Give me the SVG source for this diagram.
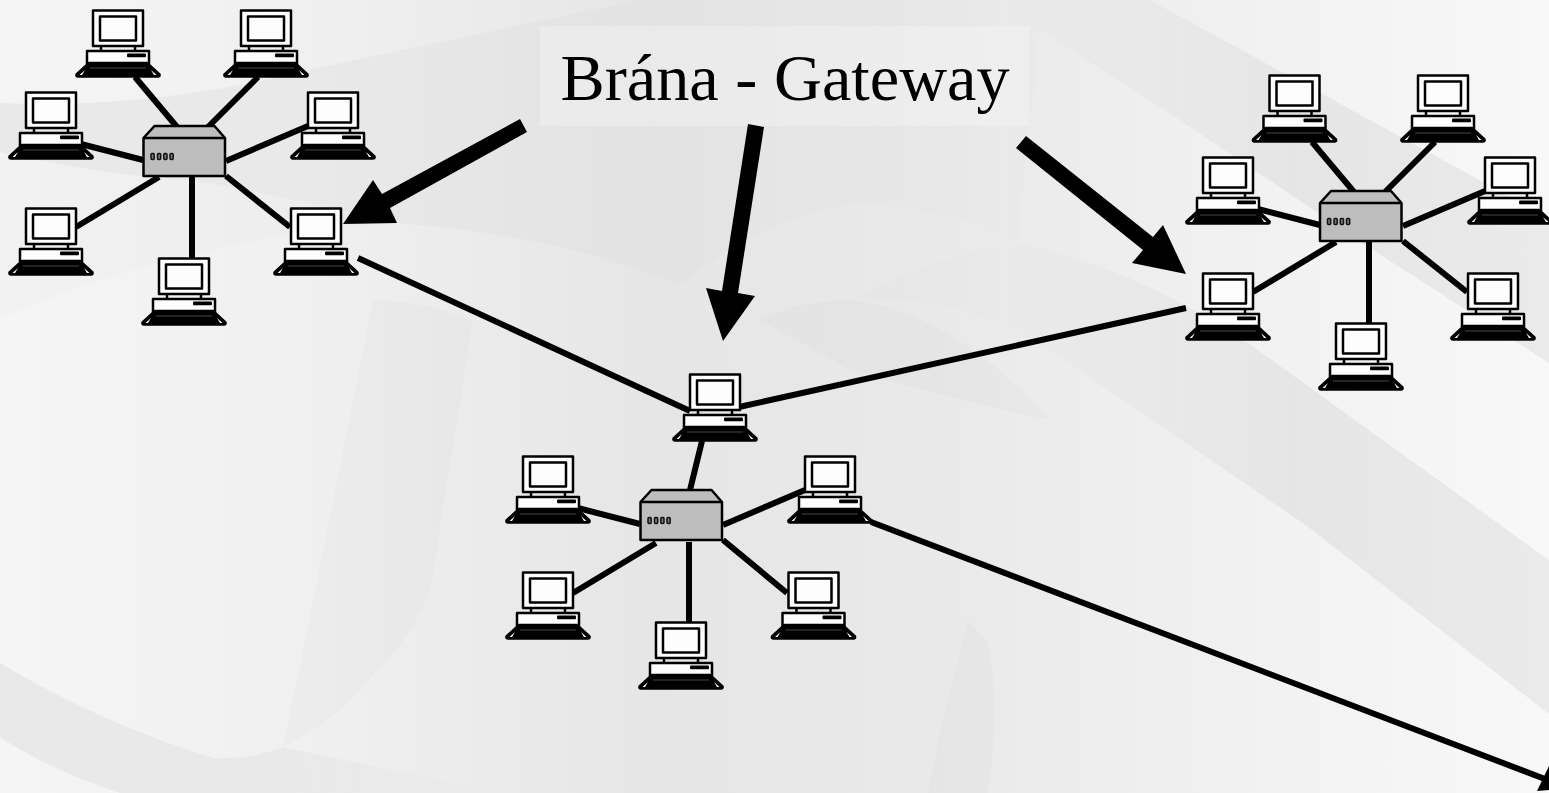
<svg xmlns="http://www.w3.org/2000/svg" xmlns:xlink="http://www.w3.org/1999/xlink" width="1549" height="793" viewBox="0 0 1549 793">
<style>
.l{stroke:#000;stroke-width:6;fill:none}
.o{stroke:#000;stroke-width:2.500;stroke-linejoin:round}
.t{font-family:"Liberation Serif",serif;font-size:66.300px;fill:#000}
.s{fill:#000;opacity:.014}
</style>
<defs>
<linearGradient id="bg" x1="0" x2="1" y1="0" y2="0">
<stop offset="0" stop-color="#f5f5f5"/><stop offset=".2" stop-color="#f0f0f0"/><stop offset=".42" stop-color="#e6e6e6"/><stop offset=".6" stop-color="#e9e9e9"/><stop offset=".8" stop-color="#f1f1f1"/><stop offset="1" stop-color="#f8f8f8"/>
</linearGradient>
<linearGradient id="band" gradientUnits="userSpaceOnUse" x1="0" y1="0" x2="1549" y2="0">
<stop offset="0" stop-opacity=".05"/><stop offset=".2" stop-opacity=".03"/><stop offset=".45" stop-opacity=".012"/><stop offset=".65" stop-opacity=".006"/><stop offset=".76" stop-opacity=".03"/><stop offset=".84" stop-opacity=".055"/><stop offset="1" stop-opacity=".055"/>
</linearGradient>
<linearGradient id="swoosh" gradientUnits="userSpaceOnUse" x1="0" y1="0" x2="500" y2="0">
<stop offset="0" stop-opacity=".05"/><stop offset=".5" stop-opacity=".035"/><stop offset="1" stop-opacity="0"/>
</linearGradient>
<g id="pc">
<rect class="o" x="0" y="0" width="50" height="35.500" fill="#fdfdfd"/>
<rect class="o" x="7" y="6" width="36" height="24" fill="#fdfdfd"/>
<path class="o" d="M8 35.500V41M42 35.500V41" fill="none"/>
<rect class="o" x="-6" y="40.500" width="62" height="13" fill="#fdfdfd"/>
<rect x="34" y="43" width="19" height="3.800" rx="1" fill="#000"/>
<path class="o" d="M-16.500 64L-4 52.500H54L66.500 64Q67 66 65 66H-15Q-17 66-16.500 64Z" fill="#000"/>
<path d="M-13.500 64.500L-8 59.500L-11 64.500Z" fill="#fff"/>
<path d="M63.500 64.500L58 59.500L61 64.500Z" fill="#fff"/>
<path d="M-3 57.500H53" stroke="#666" stroke-width=".7"/>
</g>
<g id="hub">
<path class="o" d="M0 12L11 0H71L81.500 12V50H0Z" fill="#bdbdbd"/>
<path class="o" d="M0 12H81.500" fill="none"/>
<g fill="#777" stroke="#111" stroke-width="1.500"><rect x="7.500" y="27.500" width="3.200" height="6" rx="1"/><rect x="14" y="27.500" width="3.200" height="6" rx="1"/><rect x="20.300" y="27.500" width="3.200" height="6" rx="1"/><rect x="26.500" y="27.500" width="3.200" height="6" rx="1"/></g>
</g>
</defs>
<rect width="1549" height="793" fill="url(#bg)"/>
<g id="background">
<path fill="url(#band)" d="M0 103Q120 108 240 85Q400 50 640 0H1150L1549 218V363L1373 250L1180 120L1040 30L1017 243Q950 205 851 205Q770 215 679 285Q560 235 395 223Q280 195 190 180Q100 175 0 152Z"/>
<path fill="url(#band)" d="M1017 243Q1130 265 1251 345L1549 560V714L1307 526L1051 351Q950 290 851 300Q950 250 1017 243Z"/>
<path fill="url(#swoosh)" d="M0 663Q100 723 213 758Q250 760 283 747L500 793H120Q50 770 0 737Z"/>
<path d="M0 152Q100 175 190 180Q280 195 395 223Q200 235 0 318Z" fill="#000" opacity=".012"/>
<path class="s" d="M373 300Q330 520 283 747Q340 720 377 670Q410 640 430 593L473 320Q420 300 373 300Z"/>
<path class="s" d="M987 641Q1010 730 965 897L923 820Q940 720 968 620Z"/>
<path class="s" d="M759 320Q800 300 851 300Q950 310 1051 420Q950 400 845 367Z"/>
</g>
<rect x="540" y="26" width="489" height="100" fill="#fff" opacity=".25"/>
<g id="connectors">
<path class="l" d="M135 77L177 127M258 77L208 127M77 143L143 160M308 126L226 161M76 227L159 177M290 227L226 176M192 177V258"/>
<path class="l" d="M1312 142L1354 192M1435 142L1385 192M1254 208L1320 225M1485 191L1403 226M1253 292L1336 242M1467 292L1403 241M1369 242V323"/>
<path class="l" d="M702 441L690 490M574 507L640 524M805 490L723 525M573 593L656 543M787 593L723 540M689 542V623"/>
<path class="l" d="M358 258L690 411M739 407L1186 308M871 522L1545 779"/>
<path d="M1549 766L1537 791L1549 790Z" fill="#000"/>
<path d="M520 119L527 132L390 208L397 223L343 224L373 180L382 194Z" fill="#000"/>
<path d="M748 124L764 127L738 293L755 296L723 341L706 288L722 291Z" fill="#000"/>
<path d="M1026 136L1153 237L1163 225L1186 274L1132 263L1143 250L1016 148Z" fill="#000"/>
</g>
<g id="label"><text class="t" x="560.500" y="100">Brána - Gateway</text></g>
<use id="pc1" xlink:href="#pc" x="93" y="10.500"/>
<use id="pc2" xlink:href="#pc" x="241" y="10.500"/>
<use id="pc3" xlink:href="#pc" x="26" y="92.500"/>
<use id="pc4" xlink:href="#pc" x="308" y="92.500"/>
<use id="pc5" xlink:href="#pc" x="26" y="208.500"/>
<use id="pc6" xlink:href="#pc" x="291" y="208.500"/>
<use id="pc7" xlink:href="#pc" x="159" y="258.500"/>
<use id="hub1" xlink:href="#hub" x="143.500" y="126"/>
<use id="pc8" xlink:href="#pc" x="1269.500" y="75.500"/>
<use id="pc9" xlink:href="#pc" x="1418" y="75.500"/>
<use id="pc10" xlink:href="#pc" x="1203" y="157.500"/>
<use id="pc11" xlink:href="#pc" x="1485" y="157.500"/>
<use id="pc12" xlink:href="#pc" x="1203" y="273.500"/>
<use id="pc13" xlink:href="#pc" x="1468" y="273.500"/>
<use id="pc14" xlink:href="#pc" x="1336" y="323.500"/>
<use id="hub2" xlink:href="#hub" x="1320" y="191"/>
<use id="pc15" xlink:href="#pc" x="690" y="374.500"/>
<use id="pc16" xlink:href="#pc" x="523" y="456.500"/>
<use id="pc17" xlink:href="#pc" x="805" y="456.500"/>
<use id="pc18" xlink:href="#pc" x="523" y="572.500"/>
<use id="pc19" xlink:href="#pc" x="788.500" y="572.500"/>
<use id="pc20" xlink:href="#pc" x="656" y="622.500"/>
<use id="hub3" xlink:href="#hub" x="640.500" y="490"/>
</svg>
